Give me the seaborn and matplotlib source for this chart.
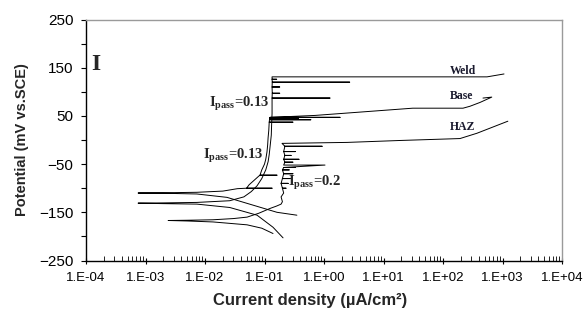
import matplotlib
matplotlib.use("Agg")
import matplotlib.pyplot as plt
import seaborn as sns
import numpy as np
import pandas as pd
from matplotlib.ticker import LogLocator, FixedLocator, NullFormatter

# ---------------- data ----------------
# Weld: cathodic end -> Ecorr tip -> anodic -> passive (with spikes) -> breakdown
weld_current = [0.205, 0.139, 0.075, 0.026, 0.0073, 0.002, 0.00075,
                0.002, 0.0073, 0.026, 0.045, 0.06, 0.075, 0.09, 0.105, 0.115,
                0.12, 0.125, 0.13, 0.132, 0.134,
                0.134, 1.26, 0.134, 0.135, 0.18, 0.135, 0.134, 0.18, 0.134,
                0.135, 2.7, 0.135, 0.134, 0.16, 0.134,
                0.134, 40.0, 550.0, 1060.0]
weld_potential = [-203, -181, -156, -140, -133, -132, -131,
                  -130.5, -129.5, -126, -118, -107, -95, -80, -62, -45,
                  -30, -10, 10, 35, 55,
                  87, 87, 87, 97, 97, 97, 110, 110, 110,
                  120, 120, 120, 126, 126, 126,
                  131, 131, 131, 137]

# Base
base_current = [0.35, 0.162, 0.0234, 0.0073, 0.002, 0.00075,
                0.002, 0.0073, 0.02, 0.035, 0.05, 0.134, 0.05, 0.055, 0.065,
                0.08, 0.084, 0.162, 0.084, 0.09, 0.1, 0.105, 0.11, 0.113,
                0.115, 0.118, 0.12, 0.30, 0.12, 0.122, 0.37, 0.122, 0.124,
                1.86, 0.124, 0.126, 0.60, 0.126, 0.13,
                0.71, 31.0, 217.0, 284.0, 420.0, 660.0, 470.0]
base_potential = [-156, -150, -119, -112, -110.5, -110,
                  -109.5, -108.5, -106, -101, -100, -100, -100, -93, -85,
                  -75, -73, -73, -73, -62, -50, -40, -25, -10,
                  5, 20, 37, 37, 37, 45, 45, 45, 47,
                  47, 47, 42, 42, 42, 47,
                  51, 66, 66, 70, 78, 89, 87]

# HAZ
haz_current = [0.139, 0.09, 0.051, 0.0136, 0.005, 0.0024,
               0.005, 0.0136, 0.03, 0.051, 0.08, 0.124, 0.16, 0.19,
               0.20, 0.19, 0.21, 0.20, 0.23, 0.20, 0.19, 0.25, 0.19, 0.20,
               0.27, 0.20, 0.21, 0.30, 0.21, 0.20, 0.26, 0.20, 0.21, 0.33,
               0.21, 1.04, 0.21, 0.22, 0.30, 0.22, 0.21, 0.38, 0.21, 0.22,
               0.28, 0.22, 0.21, 0.33, 0.21, 0.22, 0.93, 0.22, 0.197,
               2.44, 18.9, 193.0, 372.0, 1230.0]
haz_potential = [-194, -183, -176, -170, -168, -167,
                 -166.5, -165.5, -163, -160, -152, -142, -137, -133,
                 -128, -118, -110, -100, -100, -100, -90, -90, -90, -80,
                 -80, -80, -70, -70, -70, -62, -62, -62, -57, -57,
                 -57, -52, -52, -46, -46, -46, -40, -40, -40, -32,
                 -32, -32, -24, -24, -24, -13, -13, -13, -7,
                 -5, -1, 3, 14, 39]

series_labels = ["Weld", "Base", "HAZ"]
xtick_values = [1e-4, 1e-3, 1e-2, 1e-1, 1e0, 1e1, 1e2, 1e3, 1e4]
xtick_labels = ["1.E-04", "1.E-03", "1.E-02", "1.E-01", "1.E+00",
                "1.E+01", "1.E+02", "1.E+03", "1.E+04"]
ytick_values = [-250, -150, -50, 50, 150, 250]

# ---------------- figure ----------------
sns.set_style("ticks")
plt.rcParams["font.family"] = ["Liberation Sans", "DejaVu Sans"]

fig = plt.figure(figsize=(5.85, 3.09), dpi=100)
ax = fig.add_axes([86 / 585, 1 - 260.5 / 309, 476 / 585, 241 / 309])

frames = []
for name, xs, ys in [("Weld", weld_current, weld_potential),
                     ("Base", base_current, base_potential),
                     ("HAZ", haz_current, haz_potential)]:
    frames.append(pd.DataFrame({"current": xs, "potential": ys,
                                "curve": name, "order": np.arange(len(xs))}))
df = pd.concat(frames, ignore_index=True)

sns.lineplot(data=df, x="current", y="potential", units="curve",
             estimator=None, sort=False, color="black", linewidth=0.7,
             ax=ax, legend=False)

ax.set_xscale("log")
ax.set_xlim(1e-4, 1e4)
ax.set_ylim(-250, 250)

ax.xaxis.set_major_locator(FixedLocator(xtick_values))
ax.set_xticklabels(xtick_labels)
ax.xaxis.set_minor_locator(LogLocator(base=10, subs=np.arange(2, 10), numticks=100))
ax.xaxis.set_minor_formatter(NullFormatter())
ax.set_yticks(ytick_values)
ax.set_yticks([-200, -100, 0, 100, 200], minor=True)

ax.tick_params(axis="x", which="major", direction="inout", length=5,
               width=0.8, labelsize=9.5, pad=5.5, colors="black")
ax.tick_params(axis="x", which="minor", direction="in", length=3.5,
               width=0.6, colors="black")
ax.tick_params(axis="y", which="major", direction="out", length=3.6,
               width=0.8, labelsize=11, pad=5.5, colors="black")
ax.tick_params(axis="y", which="minor", direction="out", length=3.6,
               width=0.8, colors="black")

for side in ["left", "bottom"]:
    ax.spines[side].set_color("black")
    ax.spines[side].set_linewidth(1.0)
for side in ["top", "right"]:
    ax.spines[side].set_visible(True)
    ax.spines[side].set_color("#9a9a9a")
    ax.spines[side].set_linewidth(1.0)

ax.set_xlabel("Current density (µA/cm²)", fontsize=12, fontweight="bold",
              va="center")
ax.xaxis.set_label_coords(0.47, -0.168)
ax.set_ylabel("Potential (mV vs.SCE)", fontsize=10.5, fontweight="bold",
              va="center")
ax.yaxis.set_label_coords(-0.134, 0.5)

serif = ["Liberation Serif", "DejaVu Serif"]
ax.text(0.012, (260.5 - 65) / 241, "I", transform=ax.transAxes, fontsize=17,
        fontweight="bold", family=serif, va="center", ha="left")

ann_kw = dict(fontsize=10.5, fontweight="bold", family=serif, va="center")
ax.text(0.121, 76, r"I$_\mathregular{pass}$=0.13", ha="right", **ann_kw)
ax.text(0.096, -32, r"I$_\mathregular{pass}$=0.13", ha="right", **ann_kw)
ax.text(0.245, -88, r"I$_\mathregular{pass}$=0.2", ha="left", **ann_kw)

lab_kw = dict(fontsize=8.5, fontweight="bold", family=serif, va="center",
              ha="left", color="#1a1a2e")
ax.text(131, 143, series_labels[0], **lab_kw)
ax.text(131, 91, series_labels[1], **lab_kw)
ax.text(131, 26, series_labels[2], **lab_kw)

fig.savefig("out.png", dpi=100, facecolor="white")
